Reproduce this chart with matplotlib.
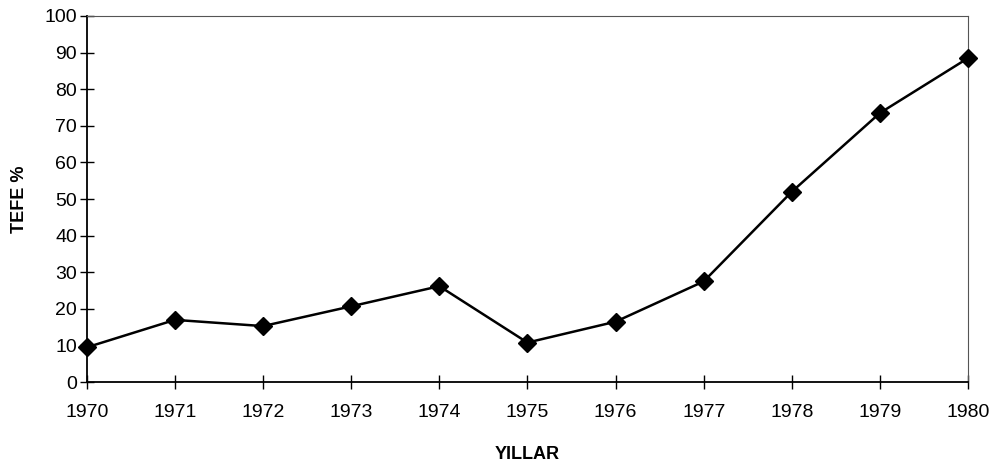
import matplotlib
matplotlib.use("Agg")
import matplotlib.pyplot as plt

# TEFE yearly change
years = [1970, 1971, 1972, 1973, 1974, 1975, 1976, 1977, 1978, 1979, 1980]
tefe = [9.5, 17.0, 15.3, 20.7, 26.2, 10.8, 16.5, 27.5, 52.0, 73.5, 88.5]
y_ticks = list(range(0, 101, 10))

plt.rcParams['font.family'] = ['Liberation Sans', 'DejaVu Sans']

fig = plt.figure(figsize=(9.98, 4.70), dpi=100)
ax = fig.add_axes([0.087, 0.187, 0.883, 0.779])

ax.plot(years, tefe, color='black', linewidth=1.8, marker='D',
        markersize=9, markerfacecolor='black', markeredgecolor='black',
        clip_on=False, zorder=3)

ax.set_xlim(years[0], years[-1])
ax.set_ylim(0, 100)
ax.set_xticks(years)
ax.set_xticklabels([str(y) for y in years])
ax.set_yticks(y_ticks)

ax.tick_params(axis='both', direction='inout', length=10, width=1,
               labelsize=14, colors='black')
ax.tick_params(axis='x', pad=11)
ax.tick_params(axis='y', pad=2)

for side in ['left', 'bottom']:
    ax.spines[side].set_linewidth(1.3)
    ax.spines[side].set_color('black')
for side in ['top', 'right']:
    ax.spines[side].set_linewidth(0.8)
    ax.spines[side].set_color('#555555')

ax.set_xlabel('YILLAR', fontsize=13, fontweight='bold', labelpad=18)
ax.set_ylabel('TEFE %', fontsize=13, fontweight='bold', labelpad=12)

fig.savefig('out.png', dpi=100)
